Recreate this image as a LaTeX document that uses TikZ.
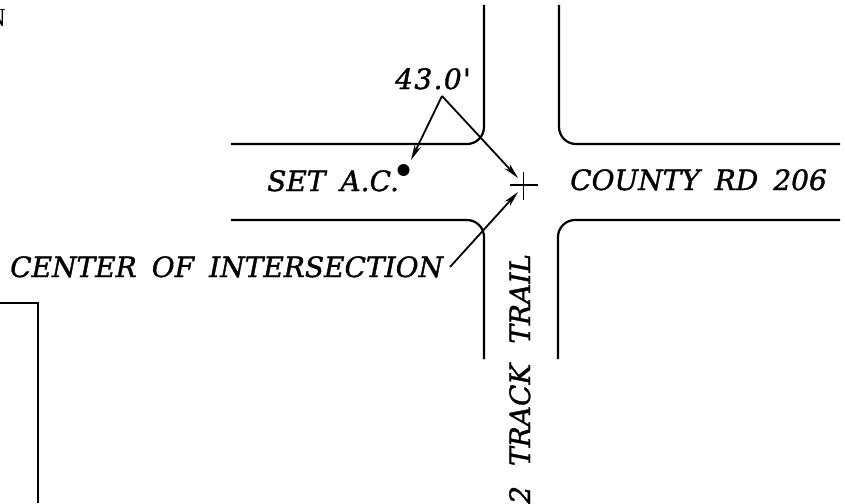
\documentclass[tikz,border=0pt]{standalone}
\usepackage{fontspec}
\usetikzlibrary{arrows.meta}
\setmainfont{Liberation Serif}
\newfontfamily\cadfont[ItalicFeatures={FakeBold=1.3}]{DejaVu Serif}
\newfontfamily\dimfont[LetterSpace=5,ItalicFeatures={FakeBold=1.3}]{DejaVu Serif}
\newcommand{\narrowgap}[1]{\spaceskip 15pt\relax #1}
\newcommand{\widegap}[1]{\spaceskip 20pt\relax #1}
\tikzset{
  road/.style={line width=2.2pt,rounded corners=17pt},
  thinline/.style={line width=1.8pt},
  leader/.style={line width=1.8pt,-{Stealth[length=16pt,width=7pt]}},
  lab/.style={inner sep=0pt,anchor=base west,font=\cadfont\itshape\fontsize{28}{28}\selectfont},
  dimlab/.style={lab,font=\dimfont\itshape\fontsize{28}{28}\selectfont},
}
\begin{document}
\begin{tikzpicture}[x=1pt,y=-1pt]
\path[use as bounding box,fill=white] (0,0) rectangle (845,503);
% road edges
\coordinate (a1) at (231,144); \coordinate (a2) at (484,144); \coordinate (a3) at (484,5);
\coordinate (b1) at (559,5); \coordinate (b2) at (559,144); \coordinate (b3) at (840,144);
\coordinate (c1) at (231,220); \coordinate (c2) at (484,220); \coordinate (c3) at (484,359);
\coordinate (d1) at (558,359); \coordinate (d2) at (558,220); \coordinate (d3) at (840,220);
\draw[road] (a1) -- (a2) -- (a3);
\draw[road] (b1) -- (b2) -- (b3);
\draw[road] (c1) -- (c2) -- (c3);
\draw[road] (d1) -- (d2) -- (d3);
% parcel corner
\coordinate (p1) at (0,303); \coordinate (p2) at (38,303); \coordinate (p3) at (38,503);
\draw[thinline] (p1) -- (p2) -- (p3);
% centre cross
\coordinate (cw) at (510,185); \coordinate (ce) at (538,185);
\coordinate (cn) at (523.5,172); \coordinate (cs) at (523.5,200);
\draw[thinline] (cw) -- (ce);
\draw[thinline] (cn) -- (cs);
% set point
\node[circle,fill=black,inner sep=0pt,minimum size=12pt] (dot) at (403.5,170) {};
% leaders
\coordinate (apex) at (442,96);
\coordinate (tipa) at (411,160);
\coordinate (tipb) at (518,178);
\coordinate (tipc) at (518,192);
\coordinate (tail) at (450,267);
\draw[leader] (apex) -- (tipa);
\draw[leader] (apex) -- (tipb);
\draw[leader] (tail) -- (tipc);
% labels
\node[dimlab] (dim) at (395,89) {43.0'};
\node[lab] (setac) at (267,191) {\narrowgap{SET A.C.}};
\node[lab] (county) at (570,190) {\narrowgap{COUNTY RD 206}};
\node[lab] (center) at (10,277) {\narrowgap{CENTER OF INTERSECTION}};
\node[lab,rotate=90] (trail) at (530,504) {\widegap{2 TRACK TRAIL}};
\node[inner sep=0pt,anchor=base east,font=\fontsize{26}{26}\selectfont] (n) at (6,27) {N};
\end{tikzpicture}
\end{document}
